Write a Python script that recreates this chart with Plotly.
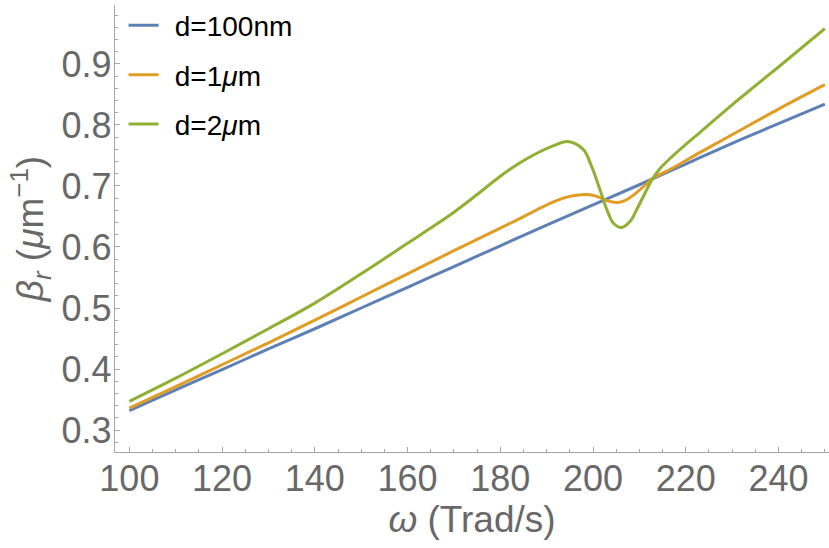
import plotly.graph_objects as go

# Propagation constant (real part) vs angular frequency for three film thicknesses
omega_100nm = [100, 110, 120, 130, 140, 150, 160, 170, 180, 190, 200, 210, 220, 230, 240, 250]
beta_100nm = [0.332, 0.366, 0.399, 0.433, 0.466, 0.500, 0.534, 0.568, 0.602, 0.636,
              0.669, 0.702, 0.736, 0.770, 0.802, 0.834]

omega_1um = [100, 110, 120, 130, 140, 150, 160, 170, 180, 184.3, 187.9, 191.5, 195.1,
             198.7, 200.8, 203, 205.1, 206.9, 208.7, 210.9, 213, 216.6, 223.1, 230,
             240, 250]
beta_1um = [0.336, 0.371, 0.407, 0.443, 0.480, 0.518, 0.556, 0.594, 0.631, 0.647, 0.661,
            0.674, 0.683, 0.686, 0.683, 0.676, 0.673, 0.676, 0.685, 0.699, 0.713, 0.727,
            0.755, 0.784, 0.826, 0.866]

omega_2um = [100, 110, 120, 130, 140, 150, 160, 165, 170, 175, 180, 184, 188, 191.5, 194.5,
             197.9, 199.7, 201.5, 203, 204.4, 206.2, 208, 209.4, 211.2, 212.7, 214.5,
             216.6, 220, 223.1, 230, 235.3, 240, 250]
beta_2um = [0.347, 0.385, 0.425, 0.466, 0.508, 0.556, 0.606, 0.631, 0.657, 0.686, 0.716,
            0.737, 0.754, 0.766, 0.773, 0.760, 0.732, 0.694, 0.661, 0.639, 0.632, 0.642,
            0.661, 0.688, 0.710, 0.729, 0.745, 0.768, 0.788, 0.833, 0.866, 0.895, 0.958]

x_ticks = [100, 120, 140, 160, 180, 200, 220, 240]
y_ticks = [0.3, 0.4, 0.5, 0.6, 0.7, 0.8, 0.9]

# thin spaces widen the gap between the legend swatch and its label
GAP = "\u2009\u2009"
series = [
    (GAP + "d=100nm", omega_100nm, beta_100nm, "#5E81B5"),
    (GAP + "d=1<i>μ</i>m", omega_1um, beta_1um, "#E19C24"),
    (GAP + "d=2<i>μ</i>m", omega_2um, beta_2um, "#8FB032"),
]

FONT = "Liberation Sans, Arial, sans-serif"
AXIS_GRAY = "#a6a6a6"
LABEL_GRAY = "#686868"

fig = go.Figure()
for i, (name, xs, ys, color) in enumerate(series):
    fig.add_trace(go.Scatter(
        x=xs, y=ys, name=name, mode="lines", legendgroup=f"g{i}",
        line=dict(color=color, width=3, shape="spline", smoothing=1.0),
    ))

axis_common = dict(
    showgrid=False, zeroline=False, showline=True, linecolor=AXIS_GRAY, linewidth=1.3,
    ticks="inside", ticklen=5, tickwidth=1, tickcolor=AXIS_GRAY,
    tickfont=dict(family=FONT, size=36, color=LABEL_GRAY),
    title_font=dict(family=FONT, size=37, color=LABEL_GRAY),
    mirror=False,
)

fig.update_xaxes(
    range=[96.9, 250.9], tickvals=x_ticks, ticklabelstandoff=-5,
    minor=dict(dtick=5, tick0=100, ticklen=3, ticks="inside", tickcolor=AXIS_GRAY),
    title=dict(text="<i>ω</i> (Trad/s)", standoff=6),
    **axis_common,
)
fig.update_yaxes(
    range=[0.264, 0.9966], tickvals=y_ticks, tickformat=".1f", ticklabelstandoff=-5,
    minor=dict(dtick=0.02, tick0=0.3, ticklen=3, ticks="inside", tickcolor=AXIS_GRAY),
    title=dict(text="<i>β</i><sub><i>r</i></sub> (<i>μ</i>m<sup>−1</sup>)", standoff=6),
    **axis_common,
)

fig.update_layout(
    width=829, height=548,
    margin=dict(l=115, r=0, t=5, b=96),
    paper_bgcolor="white", plot_bgcolor="white",
    showlegend=True,
    legend=dict(
        x=0.012, y=1.01, xanchor="left", yanchor="top",
        font=dict(family=FONT, size=28, color="black"),
        bgcolor="rgba(0,0,0,0)", tracegroupgap=10,
    ),
)

fig.write_html("out.html")
